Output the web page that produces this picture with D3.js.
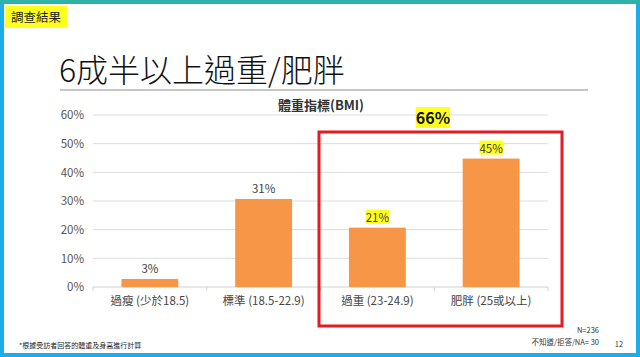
<!DOCTYPE html>
<html><head><meta charset="utf-8">
<script src="https://cdn.jsdelivr.net/npm/d3@7"></script>
<style>
html,body{margin:0;padding:0;background:#fff;}
svg{display:block;}
text{font-family:"Noto Sans CJK TC","Noto Sans",Arial,sans-serif;}
</style></head>
<body>
<svg id="c" width="640" height="357"></svg>
<script>
const categories = ["過瘦 (少於18.5)", "標準 (18.5-22.9)", "過重 (23-24.9)", "肥胖 (25或以上)"];
const values = [2.8, 30.7, 20.7, 44.8];
const valueLabels = ["3%", "31%", "21%", "45%"];
const highlighted = [false, false, true, true];
const yTicks = [0, 10, 20, 30, 40, 50, 60];
const combinedLabel = "66%";

const svg = d3.select("#c");
// slide border
svg.append("rect").attr("x",0).attr("y",0).attr("width",640).attr("height",357).attr("fill","#fff");
svg.append("rect").attr("x",2).attr("y",2).attr("width",636).attr("height",353)
  .attr("fill","none").attr("stroke","#1badea").attr("stroke-width",4);
svg.append("rect").attr("x",0).attr("y",0).attr("width",640).attr("height",3).attr("fill","#2eb3a6");

// tag
svg.append("rect").attr("x",5).attr("y",6).attr("width",62).attr("height",22).attr("fill","#ffff1e");
svg.append("text").attr("x",11).attr("y",22).attr("font-size",12.5).attr("fill","#222").text("調查結果");

// title
svg.append("text").attr("x",59).attr("y",82).attr("font-size",32).attr("font-weight",300).attr("fill","#111").text("6成半以上過重/肥胖");
svg.append("line").attr("x1",60).attr("x2",588).attr("y1",90).attr("y2",90).attr("stroke","#8c8c8c").attr("stroke-width",1.2);

// chart title
svg.append("text").attr("x",321).attr("y",110).attr("text-anchor","middle").attr("font-size",13).attr("font-weight","bold").attr("fill","#333").text("體重指標(BMI)");

const x = d3.scaleBand().domain(categories).range([93, 548]).paddingInner(0.5).paddingOuter(0.25);
const y = d3.scaleLinear().domain([0, 60]).range([287, 115]);

// gridlines
svg.append("g").selectAll("line").data(yTicks.filter(d=>d>0)).join("line")
  .attr("x1",93).attr("x2",548).attr("y1",d=>y(d)).attr("y2",d=>y(d))
  .attr("stroke","#dcdcdc").attr("stroke-width",1);

// y axis labels
const yAxis = d3.axisLeft(y).tickValues(yTicks).tickFormat(d=>d+"%").tickSize(0).tickPadding(0);
const ya = svg.append("g").attr("transform","translate(84,0)").call(yAxis);
ya.select(".domain").remove();
ya.selectAll("text").attr("font-size",11.5).attr("fill","#555").attr("font-family","Liberation Sans, Arial, sans-serif");

// x axis baseline
svg.append("line").attr("x1",93).attr("x2",548).attr("y1",y(0)).attr("y2",y(0)).attr("stroke","#d0d0d0").attr("stroke-width",1);
const bounds = d3.range(categories.length+1).map(i=>93 + i*(455/categories.length));
svg.append("g").selectAll("line").data(bounds).join("line")
  .attr("x1",d=>d).attr("x2",d=>d).attr("y1",y(0)).attr("y2",y(0)+4)
  .attr("stroke","#d0d0d0").attr("stroke-width",1);

// bars
svg.append("g").selectAll("rect").data(values).join("rect")
  .attr("x",(d,i)=>x(categories[i])).attr("width",x.bandwidth())
  .attr("y",d=>y(d)).attr("height",d=>y(0)-y(d)).attr("fill","#f79646");

// value labels
const vl = svg.append("g");
values.forEach((v,i)=>{
  const cx = x(categories[i]) + x.bandwidth()/2;
  const ty = y(v) - 6;
  const t = vl.append("text").attr("x",cx).attr("y",ty).attr("text-anchor","middle")
    .attr("font-size",11.5).attr("fill","#404040").attr("font-family","Liberation Sans, Arial, sans-serif").text(valueLabels[i]);
  if (highlighted[i]) {
    const bb = t.node().getBBox();
    vl.insert("rect", () => t.node()).attr("x",bb.x).attr("y",bb.y+1).attr("width",bb.width).attr("height",bb.height-2).attr("fill","#ffff1e");
  }
});

// category labels
const xAxis = d3.axisBottom(x).tickSize(0).tickPadding(0);
const xa = svg.append("g").attr("transform","translate(0,296)").call(xAxis);
xa.select(".domain").remove();
xa.selectAll("text").attr("font-size",11.5).attr("fill","#444").attr("dy","0.75em");

// red box
svg.append("rect").attr("x",319).attr("y",132).attr("width",243).attr("height",194)
  .attr("fill","none").attr("stroke","#e31b23").attr("stroke-width",3);

// combined label
const cl = svg.append("text").attr("x",433).attr("y",124).attr("text-anchor","middle")
  .attr("font-size",16).attr("font-weight","bold").attr("fill","#111").attr("font-family","Liberation Sans, Arial, sans-serif").text(combinedLabel);
const cb = cl.node().getBBox();
svg.insert("rect", () => cl.node()).attr("x",cb.x).attr("y",cb.y+2).attr("width",cb.width).attr("height",cb.height-3).attr("fill","#ffff1e");

// footer
svg.append("text").attr("x",19).attr("y",348).attr("font-size",7).attr("fill","#222").text("*根據受訪者回答的體重及身高進行計算");
svg.append("text").attr("x",599).attr("y",333).attr("text-anchor","end").attr("font-size",7.5).attr("fill","#333").attr("font-family","Liberation Sans, Arial, sans-serif").text("N=236");
svg.append("text").attr("x",599).attr("y",345).attr("text-anchor","end").attr("font-size",7.5).attr("fill","#333").text("不知道/拒答/NA= 30");
svg.append("text").attr("x",619).attr("y",347).attr("text-anchor","middle").attr("font-size",7.5).attr("fill","#333").attr("font-family","Liberation Sans, Arial, sans-serif").text("12");
</script>
</body></html>
